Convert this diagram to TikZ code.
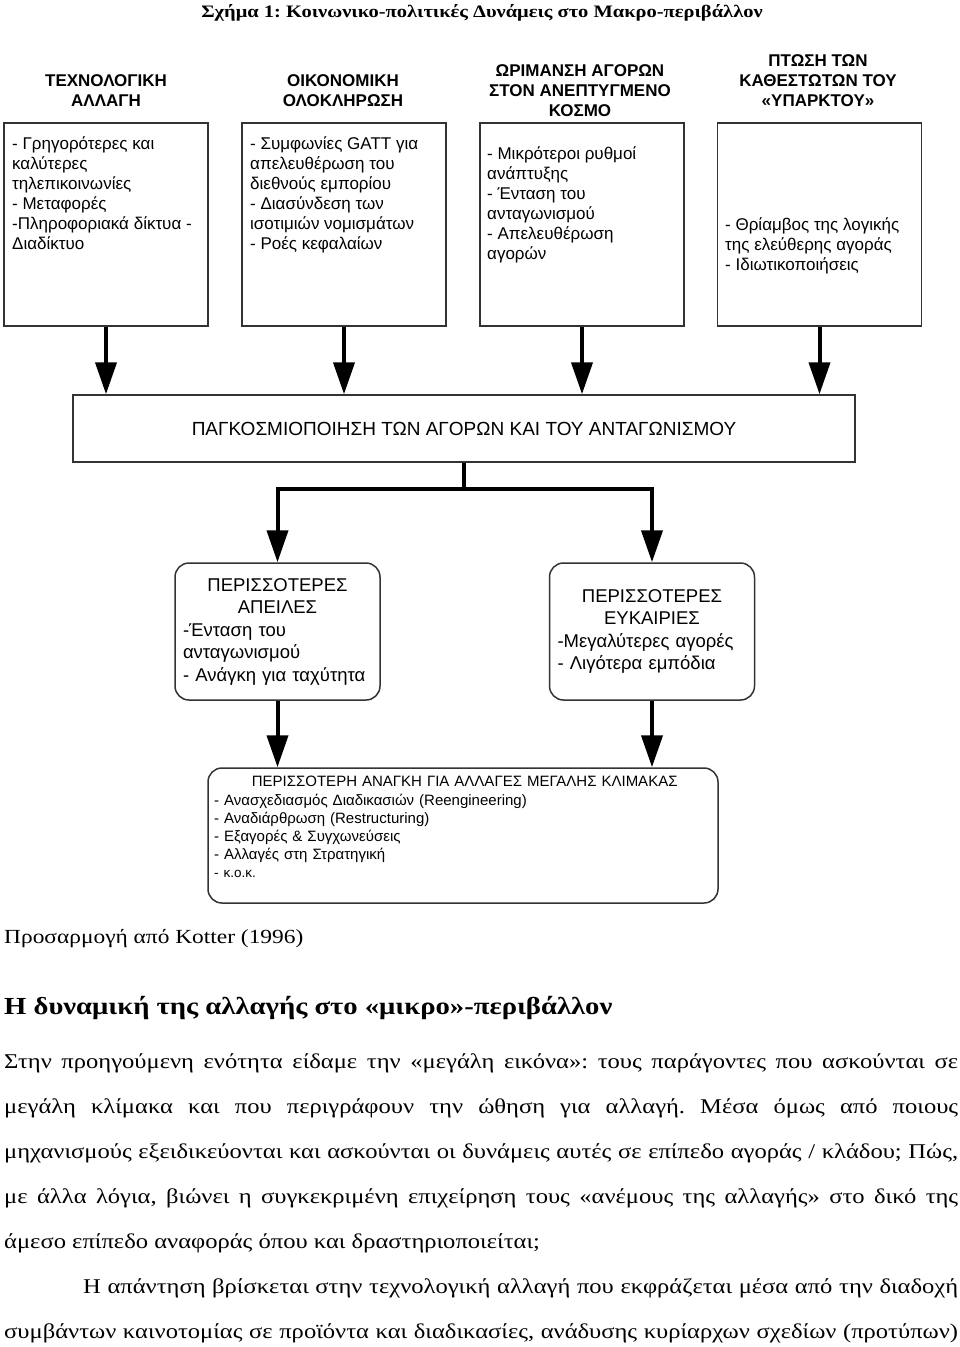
\documentclass[tikz,border=0pt]{standalone}
\usepackage{fontspec}
\setmainfont[FakeStretch=1.17]{Liberation Serif}
\newfontfamily\diagfont{Liberation Sans}
\usetikzlibrary{arrows.meta}
\frenchspacing
\begin{document}
\begin{tikzpicture}[x=1pt,y=-1pt]
\tikzstyle{topbox}=[draw=black!80,line width=1.5pt,minimum width=204pt,minimum height=203pt,inner sep=0pt]
\tikzstyle{boxtext}=[anchor=north west,inner sep=0pt,align=left,font=\diagfont\fontsize{17}{20}\selectfont]
\tikzstyle{heading}=[align=center,inner sep=0pt,font=\diagfont\bfseries\fontsize{17}{20}\selectfont]
\tikzstyle{roundbox}=[draw=black!80,line width=1.5pt,rounded corners=14pt,minimum width=205pt,minimum height=137pt,inner xsep=8pt,text width=189pt,align=left,font=\diagfont\fontsize{18.5}{22.5}\selectfont]
\tikzstyle{flow}=[line width=4pt,-{Triangle[length=32pt,width=21pt]}]
\tikzstyle{bar}=[line width=4pt]
\tikzstyle{bodyline}=[anchor=base west,inner sep=0pt,font=\fontsize{21}{21}\selectfont]
\useasboundingbox[fill=white] (0,0) rectangle (960,1347);
\node[font=\bfseries\fontsize{17.5}{17.5}\selectfont,inner sep=0pt] (caption) at (482,13) {Σχήμα 1: Κοινωνικο-πολιτικές Δυνάμεις στο Μακρο-περιβάλλον};
% the four forces
\node[heading] (techhead) at (106,90.5) {ΤΕΧΝΟΛΟΓΙΚΗ\\ΑΛΛΑΓΗ};
\node[heading] (econhead) at (343,90.5) {ΟΙΚΟΝΟΜΙΚΗ\\ΟΛΟΚΛΗΡΩΣΗ};
\node[heading] (marthead) at (580,91) {ΩΡΙΜΑΝΣΗ ΑΓΟΡΩΝ\\ΣΤΟΝ ΑΝΕΠΤΥΓΜΕΝΟ\\ΚΟΣΜΟ};
\node[heading] (regihead) at (818,81) {ΠΤΩΣΗ ΤΩΝ\\ΚΑΘΕΣΤΩΤΩΝ ΤΟΥ\\«ΥΠΑΡΚΤΟΥ»};
\node[topbox] (tech) at (106,224.5) {};
\node[topbox] (econ) at (344,224.5) {};
\node[topbox] (mart) at (582,224.5) {};
\node[topbox] (regi) at (819.5,224.5) {};
\node[boxtext] (techtxt) at (12,136) {- Γρηγορότερες και\\καλύτερες\\τηλεπικοινωνίες\\- Μεταφορές\\-Πληροφοριακά δίκτυα -\\Διαδίκτυο};
\node[boxtext] (econtxt) at (250,136) {- Συμφωνίες GATT για\\απελευθέρωση του\\διεθνούς εμπορίου\\- Διασύνδεση των\\ισοτιμιών νομισμάτων\\- Ροές κεφαλαίων};
\node[boxtext] (marttxt) at (487,146) {- Μικρότεροι ρυθμοί\\ανάπτυξης\\- Ένταση του\\ανταγωνισμού\\- Απελευθέρωση\\αγορών};
\node[boxtext] (regitxt) at (725,217) {- Θρίαμβος της λογικής\\της ελεύθερης αγοράς\\- Ιδιωτικοποιήσεις};
% globalisation
\node[draw=black!80,line width=1.5pt,minimum width=782pt,minimum height=67pt,font=\diagfont\fontsize{19}{19}\selectfont] (glob) at (464,428.5) {ΠΑΓΚΟΣΜΙΟΠΟΙΗΣΗ ΤΩΝ ΑΓΟΡΩΝ ΚΑΙ ΤΟΥ ΑΝΤΑΓΩΝΙΣΜΟΥ};
\coordinate (split) at ([yshift=-26pt]glob.south);
% threats and opportunities
\node[roundbox] (threat) at (277.5,631.5) {\makebox[189pt]{ΠΕΡΙΣΣΟΤΕΡΕΣ}\\\makebox[189pt]{ΑΠΕΙΛΕΣ}\\-Ένταση του\\ανταγωνισμού\\- Ανάγκη για ταχύτητα};
\node[roundbox] (opp) at (652,631.5) {\makebox[189pt]{ΠΕΡΙΣΣΟΤΕΡΕΣ}\\\makebox[189pt]{ΕΥΚΑΙΡΙΕΣ}\\-Μεγαλύτερες αγορές\\- Λιγότερα εμπόδια};
\node[draw=black!80,line width=1.5pt,rounded corners=14pt,minimum width=510pt,minimum height=135pt] (need) at (463,835.5) {};
\node[anchor=north west,inner sep=0pt,text width=500pt,align=left,font=\diagfont\fontsize{15}{18}\selectfont] (needtxt) at (214,776) {\makebox[501pt]{ΠΕΡΙΣΣΟΤΕΡΗ ΑΝΑΓΚΗ ΓΙΑ ΑΛΛΑΓΕΣ ΜΕΓΑΛΗΣ ΚΛΙΜΑΚΑΣ}\\[1pt]- Ανασχεδιασμός Διαδικασιών (Reengineering)\\- Αναδιάρθρωση (Restructuring)\\- Εξαγορές \& Συγχωνεύσεις\\- Αλλαγές στη Στρατηγική\\{\fontsize{13.5}{18}\selectfont - κ.ο.κ.}};
\path
    (tech.south) edge[flow] (tech.south |- glob.north)
    (econ.south) edge[flow] (econ.south |- glob.north)
    (mart.south) edge[flow] (mart.south |- glob.north)
    (regi.south) edge[flow] (regi.south |- glob.north);
\draw[bar] (glob.south) -- (split);
\draw[flow] (split) -| (threat.north);
\draw[flow] (split) -| (opp.north);
\path
    (threat.south) edge[flow] (threat.south |- need.north)
    (opp.south) edge[flow] (opp.south |- need.north);
% text below the figure
\node[bodyline,font=\fontsize{20}{20}\selectfont] (source) at (4,943) {Προσαρμογή από Kotter (1996)};
\node[bodyline,font=\bfseries\fontsize{24.5}{24.5}\selectfont] (section) at (4,1014) {Η δυναμική της αλλαγής στο «μικρο»-περιβάλλον};
\node[bodyline] (line1) at (4,1068) {\makebox[954pt][s]{Στην προηγούμενη ενότητα είδαμε την «μεγάλη εικόνα»: τους παράγοντες που ασκούνται σε}};
\node[bodyline] (line2) at (4,1113) {\makebox[954pt][s]{μεγάλη κλίμακα και που περιγράφουν την ώθηση για αλλαγή. Μέσα όμως από ποιους}};
\node[bodyline] (line3) at (4,1158) {\makebox[954pt][s]{μηχανισμούς εξειδικεύονται και ασκούνται οι δυνάμεις αυτές σε επίπεδο αγοράς / κλάδου; Πώς,}};
\node[bodyline] (line4) at (4,1203) {\makebox[954pt][s]{με άλλα λόγια, βιώνει η συγκεκριμένη επιχείρηση τους «ανέμους της αλλαγής» στο δικό της}};
\node[bodyline] (line5) at (4,1248) {άμεσο επίπεδο αναφοράς όπου και δραστηριοποιείται;};
\node[bodyline] (line6) at (83,1293) {\makebox[875pt][s]{Η απάντηση βρίσκεται στην τεχνολογική αλλαγή που εκφράζεται μέσα από την διαδοχή}};
\node[bodyline] (line7) at (4,1338) {\makebox[954pt][s]{συμβάντων καινοτομίας σε προϊόντα και διαδικασίες, ανάδυσης κυρίαρχων σχεδίων (προτύπων)}};
\end{tikzpicture}
\end{document}
